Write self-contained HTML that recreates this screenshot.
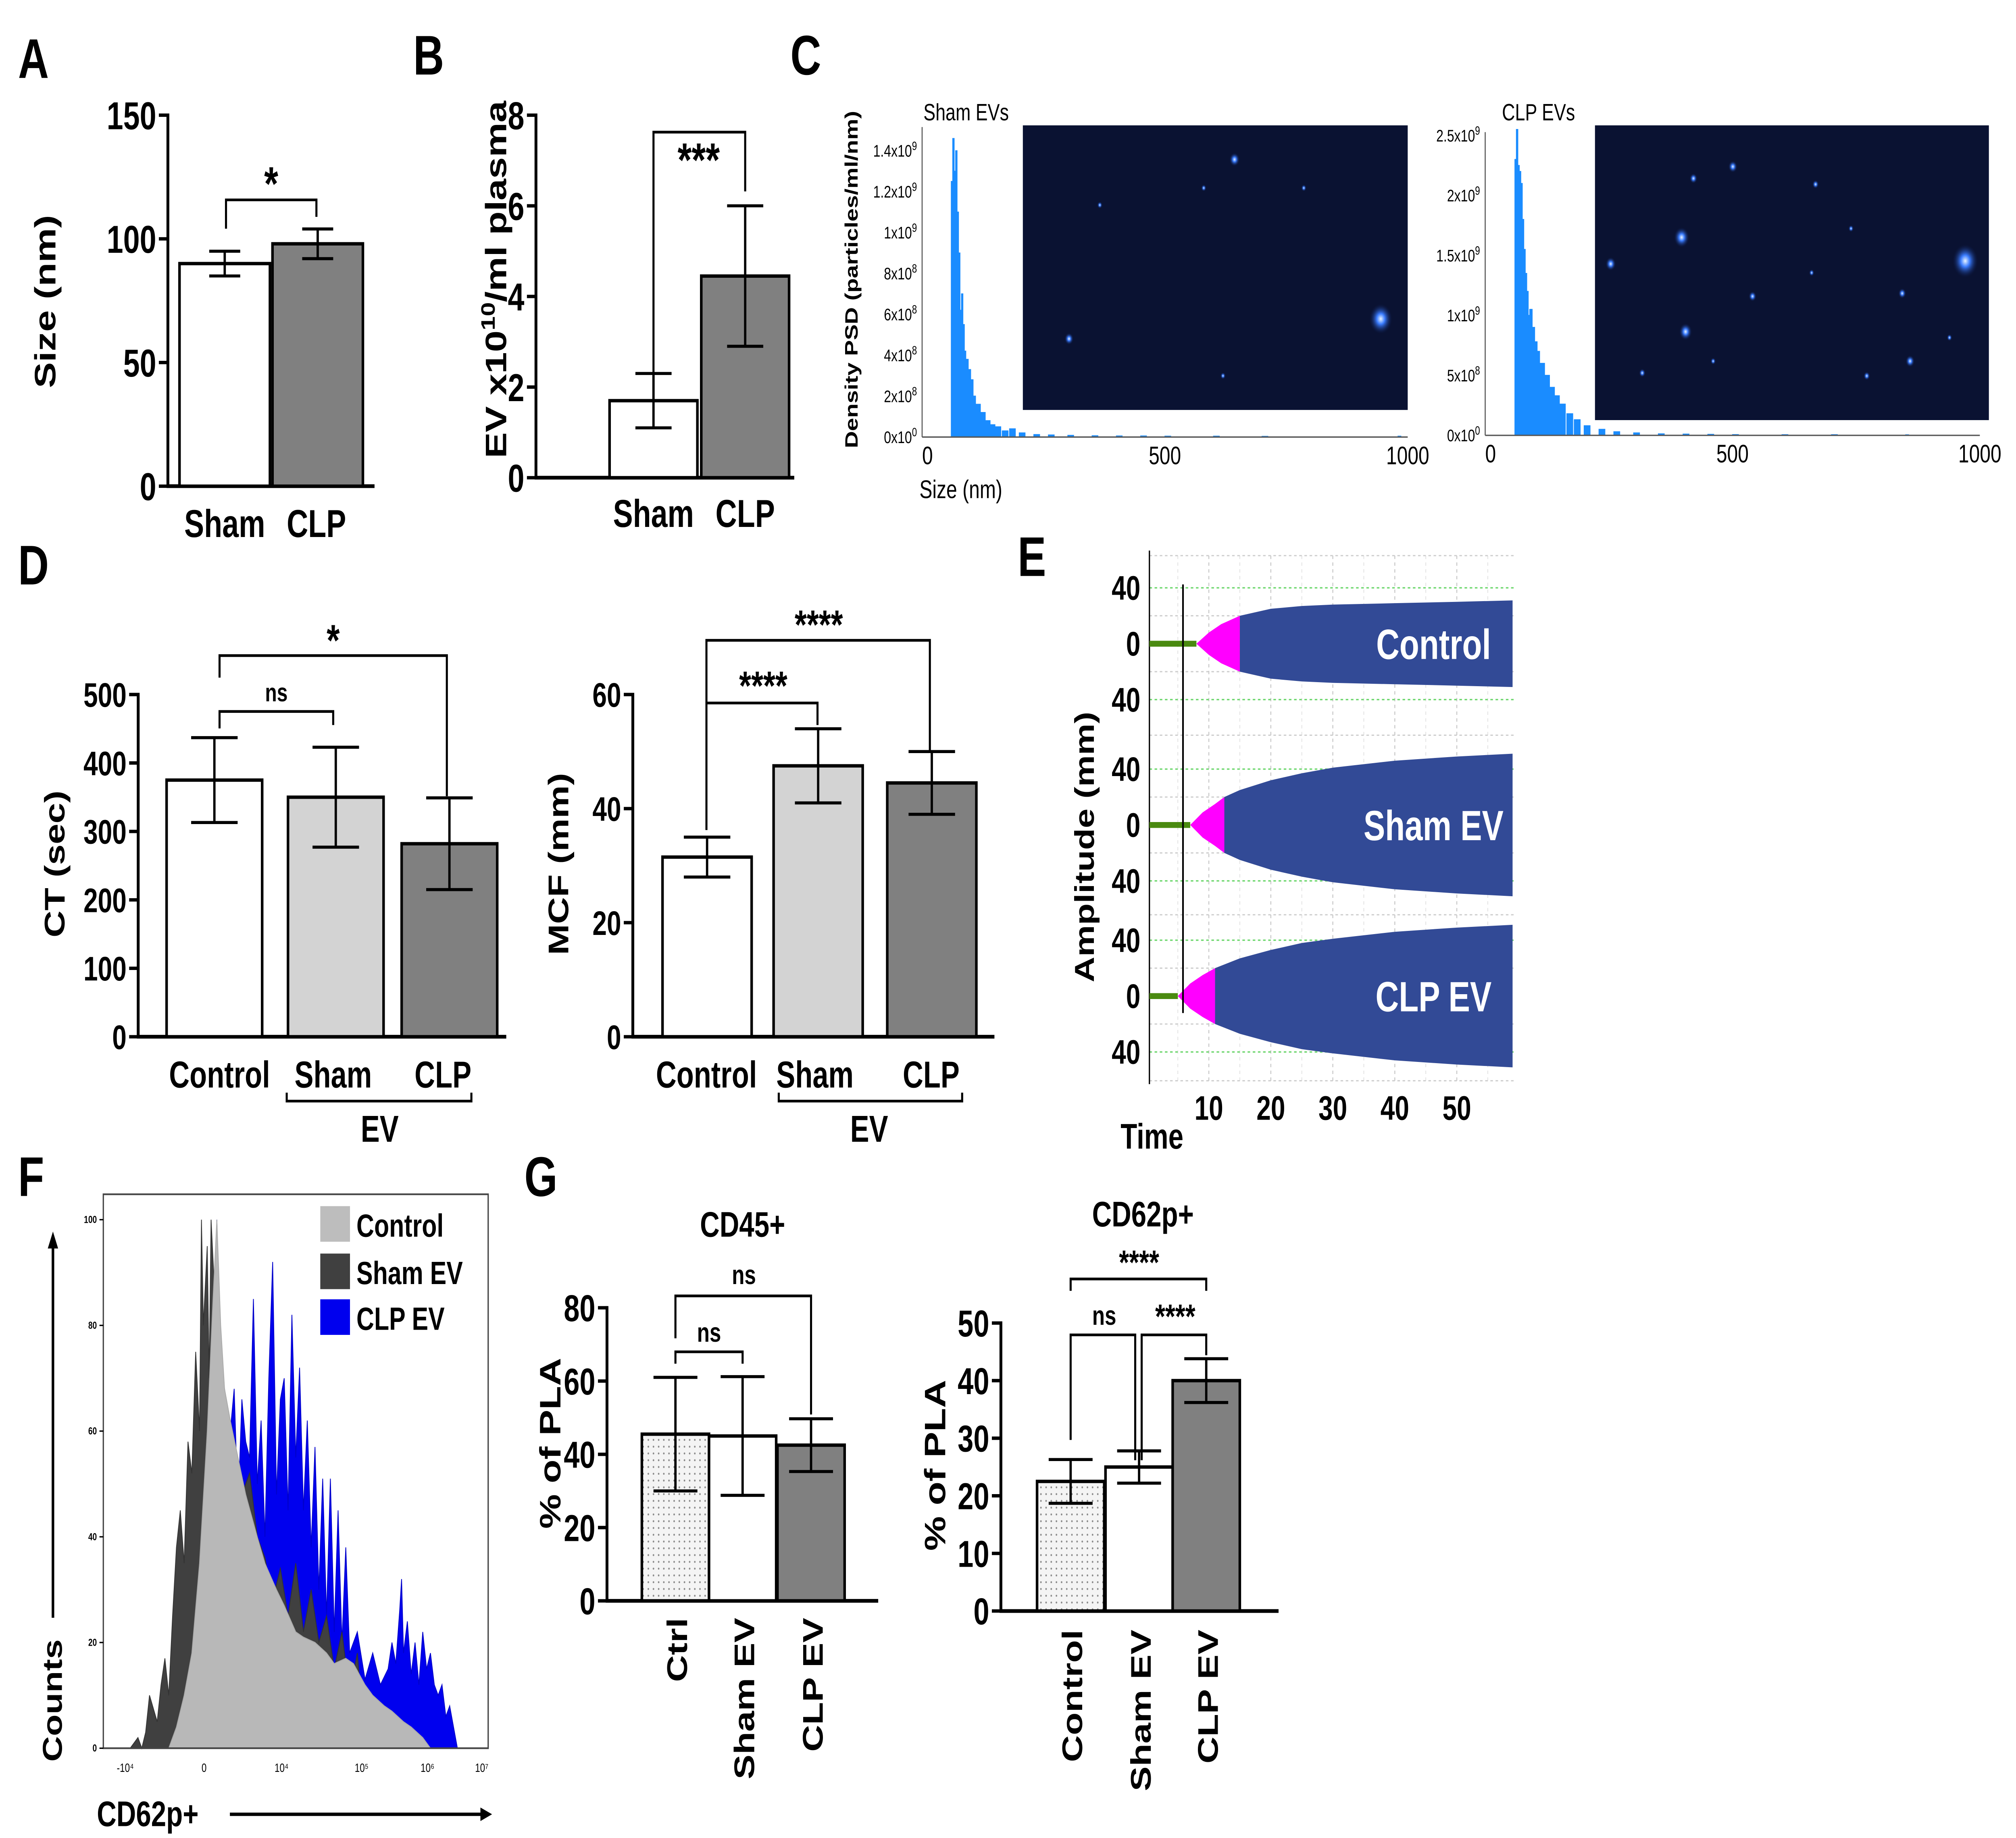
<!DOCTYPE html>
<html><head><meta charset="utf-8">
<style>
html,body{margin:0;padding:0;background:#fff;overflow:hidden;width:100vw;height:100vh;}
svg{display:block;width:100vw;height:100vh;}
text{font-family:"Liberation Sans",sans-serif;}
.b{font-weight:bold;}
.n{font-family:"Liberation Sans Narrow","Liberation Sans",sans-serif;font-weight:bold;}
</style></head>
<body>
<svg id="fig" xmlns="http://www.w3.org/2000/svg" viewBox="0 0 1561 1085" preserveAspectRatio="none">
<defs>
<pattern id="dots" width="4" height="4" patternUnits="userSpaceOnUse"><rect width="4" height="4" fill="#f4f4f4"/><circle cx="2" cy="2" r="0.6" fill="#888"/></pattern>
<radialGradient id="glow"><stop offset="0" stop-color="#e8f4ff"/><stop offset="0.35" stop-color="#3a7cff"/><stop offset="1" stop-color="#0a1540" stop-opacity="0"/></radialGradient>
</defs>
<g id="root"></g>
</svg>
<script>
// ---------- DATA ----------
const aCats=['Sham','CLP'];
const aVals=[90,98];
const aErrs=[5,6];
const aTicks=[0,50,100,150];

const bCats=['Sham','CLP'];
const bVals=[1.7,4.45];
const bErrs=[0.6,1.55];
const bTicks=[0,2,4,6,8];

const ctCats=['Control','Sham','CLP'];
const ctVals=[375,350,282];
const ctErrs=[62,73,67];
const ctTicks=[0,100,200,300,400,500];

const mcfCats=['Control','Sham','CLP'];
const mcfVals=[31.5,47.5,44.5];
const mcfErrs=[3.5,6.5,5.5];
const mcfTicks=[0,20,40,60];

const cd45Cats=['Ctrl','Sham EV','CLP EV'];
const cd45Vals=[45.5,45,42.5];
const cd45Errs=[15.5,16.2,7.2];
const cd45Ticks=[0,20,40,60,80];

const cd62Cats=['Control','Sham EV','CLP EV'];
const cd62Vals=[22.5,25,40];
const cd62Errs=[3.8,2.8,3.8];
const cd62Ticks=[0,10,20,30,40,50];

// NTA histograms (size nm, density x1e9)
const shamSizes=[60,63,66,69,72,75,78,81,84,87,90,95,100,105,110,120,130,140,150,165,180,200,230,260,300,350,400,450,500,600,700,980];
const shamDens=[1.25,1.46,1.3,1.4,1.1,0.9,0.62,0.7,0.55,0.42,0.38,0.33,0.28,0.2,0.16,0.12,0.08,0.06,0.05,0.03,0.04,0.02,0.012,0.01,0.008,0.006,0.005,0.005,0.004,0.004,0.003,0.004];
const shamTicks=['0x10','2x10','4x10','6x10','8x10','1x10','1.2x10','1.4x10'];
const shamTickVals=[0,0.2,0.4,0.6,0.8,1.0,1.2,1.4];
const shamTickExp=['0','8','8','8','8','9','9','9'];
const clpSizes=[60,63,66,69,72,75,78,81,84,87,90,95,100,105,110,120,130,140,150,165,180,200,230,260,300,350,400,450,500,600,700,850];
const clpDens=[2.3,2.55,2.25,2.2,2.1,1.8,1.55,1.35,1.2,1.0,1.05,0.9,0.78,0.7,0.6,0.5,0.4,0.33,0.26,0.18,0.13,0.08,0.05,0.03,0.02,0.012,0.01,0.008,0.006,0.005,0.005,0.004];
const clpTicks=['0x10','5x10','1x10','1.5x10','2x10','2.5x10'];
const clpTickVals=[0,0.5,1.0,1.5,2.0,2.5];
const clpTickExp=['0','8','9','9','9','9'];

// TEG traces (time min, amplitude mm)
const ctrlT=[8,10,12,15,20,25,30,40,50,59];
const ctrlA=[0,8,14,20,25,27,28,29,30,31];
const ctrlMagEnd=15;
const shamT=[7,9,11,12.5,15,20,25,30,40,50,59];
const shamA=[0,9,15,20,25,32,37,41,46,49,51];
const shamMagEnd=12.5;
const clpT=[5,7,9,11,15,20,25,30,40,50,59];
const clpA=[0,9,15,20,27,33,38,41,46,49,51];
const clpMagEnd=11;
const tegTimeTicks=[10,20,30,40,50];

// Flow histograms (channel 0-100 across axis, counts 0-100)
const fCtrlCh=[17,19,21,23,25,27,28.5,29.5,30.5,31.5,33,35,37,40,42,45,47,50,52,55,58,60,63,65,68,70,73,75,78,80,83,85];
const fCtrlCnt=[0,4,10,18,35,60,85,100,80,68,62,55,48,40,35,30,27,22,21,20,18,16,17,16,12,10,8,7,5,4,2,0];
const fShamCh=[7,9,10,11,12,14,15,16,17,18,19,20,21,22,23,24,25,25.5,26,27,27.5,28,29,30,31,33,34,36,38,40,42,44,46,48,50,52,54,56,58,60,62,64,66,68];
const fShamCnt=[0,2,0,3,10,5,12,17,10,25,38,45,35,58,52,75,60,100,80,95,70,100,85,70,68,62,55,48,52,40,36,28,34,25,35,22,30,20,25,15,22,10,18,0];
const fClpCh=[19,21,23,25,27,28,29,29.5,30.5,31.5,33,34,35,36,37,38,39,40,41,42,43,44,45,46,47,48,49,50,51,52,53,54,55,56,57,58,59,60,61,62,63,64,66,68,70,72,74,75,76,77,77.5,78,79,80,81,82,83,84,85,86,87,88,89,90,91,92];
const fClpCnt=[0,0,5,20,45,60,80,100,70,68,60,68,45,66,58,55,85,50,62,40,70,92,48,66,70,45,82,55,72,45,62,38,57,30,51,25,51,22,45,20,38,18,22,13,18,12,15,20,16,26,32,18,24,14,20,12,22,15,18,12,10,12,6,8,4,0];

// ---------- helpers ----------
const NS='http://www.w3.org/2000/svg';
const root=document.getElementById('root');
function mk(tag,attrs,parent){const e=document.createElementNS(NS,tag);for(const k in attrs)e.setAttribute(k,attrs[k]);(parent||root).appendChild(e);return e;}
function txt(s,attrs,parent){const e=mk('text',attrs,parent);e.textContent=s;return e;}
function grp(name){const g=mk('g',{});


return g;}

// ---------- bar chart ----------
function barChart(name,cfg,cats,vals,errs,ticks){
  const g=grp(name);
  const y=v=>cfg.y0-v/cfg.vmax*(cfg.y0-cfg.yTop);
  const ya=mk('line',{x1:cfg.ax,y1:cfg.yTop-1,x2:cfg.ax,y2:cfg.y0+1,stroke:'#000','stroke-width':2.2},g);
  
  
  const xa=mk('line',{x1:cfg.ax-1,y1:cfg.y0,x2:cfg.axEnd,y2:cfg.y0,stroke:'#000','stroke-width':2.2},g);
  
  
  ticks.forEach(t=>{
    mk('line',{x1:cfg.ax-7,y1:y(t),x2:cfg.ax,y2:y(t),stroke:'#000','stroke-width':2},g);
    const tl=txt(String(t),{x:cfg.ax-9,y:y(t)+cfg.fs*0.36,'text-anchor':'end','font-size':cfg.fs,class:cfg.cls||'b'},g);
    
    
  });
  vals.forEach((v,i)=>{
    const bx=cfg.bx[i],cx=bx+cfg.bw/2;
    const r=mk('rect',{x:bx,y:y(v),width:cfg.bw,height:cfg.y0-y(v),fill:cfg.fills[i],stroke:'#000','stroke-width':2},g);
    
    
    const e=errs[i],c=cfg.cap;
    const eb=mk('path',{d:`M${cx},${y(v-e)}V${y(v+e)}M${cx-c},${y(v+e)}H${cx+c}M${cx-c},${y(v-e)}H${cx+c}`,stroke:'#000','stroke-width':1.8,fill:'none'},g);
    
    
  });
  return g;
}
function bracket(pts,label,lx,ly,fs,parent){
  const p=mk('polyline',{points:pts,fill:'none',stroke:'#000','stroke-width':1.6},parent);
  
  
  const t=txt(label,{x:lx,y:ly,'text-anchor':'middle','font-size':fs,class:'b'},parent);
  
  
}
function label(s,x,y,fs,parent,name,extra){
  const t=txt(s,Object.assign({x:x,y:y,'font-size':fs,class:'b','text-anchor':'middle'},extra||{}),parent);
  
  
  return t;
}
function rlabel(s,x,y,fs,parent,name,anchor){
  const t=txt(s,{x:0,y:0,'font-size':fs,class:'b','text-anchor':anchor||'middle',transform:`translate(${x},${y}) rotate(-90)`},parent);
  
  
  return t;
}

// panel letters
[['A',14,46],['B',320,44],['C',612,44],['D',14,345],['E',788,340],['F',14,706],['G',406,706]].forEach(p=>{
  const t=txt(p[0],{x:p[1],y:p[2],'font-size':33,class:'b'});
  
  
});

// ---------- A ----------
const gA=barChart('panel-a-size-chart',{ax:130,axEnd:290,y0:287,yTop:68,vmax:150,bx:[139,211],bw:70,fills:['#fff','#808080'],cap:12,fs:23},aCats,aVals,aErrs,aTicks);
bracket('175,135 175,118 245,118 245,128','*',210,118,28,gA);
label('Sham',174,317,23,gA,'x-label-sham');
label('CLP',245,317,23,gA,'x-label-clp');
rlabel('Size (nm)',43,178,23,gA,'y-axis-title');

// ---------- B ----------
const gB=barChart('panel-b-ev-chart',{ax:415,axEnd:615,y0:282,yTop:68,vmax:8,bx:[472,543],bw:68,fills:['#fff','#808080'],cap:14,fs:23},bCats,bVals,bErrs,bTicks);
bracket('506,225 506,78 577,78 577,113','***',541,104,28,gB);
label('Sham',506,311,23,gB,'x-label-sham');
label('CLP',577,311,23,gB,'x-label-clp');
{const t=rlabel('',392,165,23,gB,'y-axis-title');
 t.textContent='';
 const a=document.createElementNS(NS,'tspan');a.textContent='EV x10';t.appendChild(a);
 const s=document.createElementNS(NS,'tspan');s.setAttribute('dy','-9');s.setAttribute('font-size','15');s.textContent='10';t.appendChild(s);
 const c=document.createElementNS(NS,'tspan');c.setAttribute('dy','9');c.textContent='/ml plasma';t.appendChild(c);}

// ---------- C ----------
function nta(name,cfg,sizes,dens,tickLbl,tickVals,tickExp,title){
  const g=grp(name);
  const x=s=>cfg.ax+s*cfg.xs;
  const y=d=>cfg.y0-d*cfg.ys;
  let d=`M${x(sizes[0])},${cfg.y0}`;
  sizes.forEach((s,i)=>{const w=(i<sizes.length-1?sizes[i+1]-s:6);d+=`V${y(dens[i])}H${x(s+Math.min(w,12))}V${i<sizes.length-1&&w>12?cfg.y0:y(dens[i])}`;if(w>12&&i<sizes.length-1)d+=`H${x(sizes[i+1])}`;});
  d+=`V${cfg.y0}Z`;
  const h=mk('path',{d:d,fill:'#1a8cff',stroke:'#1a8cff','stroke-width':0.6},g);
  
  
  mk('line',{x1:cfg.ax,y1:cfg.yTop,x2:cfg.ax,y2:cfg.y0,stroke:'#555','stroke-width':0.8},g);
  mk('line',{x1:cfg.ax,y1:cfg.y0,x2:x(1000),y2:cfg.y0,stroke:'#555','stroke-width':0.8},g);
  tickVals.forEach((v,i)=>{
    const t=txt('',{x:cfg.ax-4,y:y(v)+3.5,'text-anchor':'end','font-size':10},g);
    
    
    const a=document.createElementNS(NS,'tspan');a.textContent=tickLbl[i];t.appendChild(a);
    const s=document.createElementNS(NS,'tspan');s.setAttribute('dy','-4');s.setAttribute('font-size','7');s.textContent=tickExp[i];t.appendChild(s);
  });
  [0,500,1000].forEach(v=>{const t=txt(String(v),{x:x(v),y:cfg.y0+16,'text-anchor':v===0?'start':'middle','font-size':15},g);
    
    });
  const tt=txt(title,{x:cfg.tx,y:71,'font-size':14},g);
  
  
  const im=mk('g',{},g);
  
  
  mk('rect',{x:cfg.ix,y:cfg.iy,width:cfg.iw,height:cfg.ih,fill:'#0a1232'},im);
  cfg.spots.forEach(p=>mk('circle',{cx:cfg.ix+p[0]*cfg.iw,cy:cfg.iy+p[1]*cfg.ih,r:p[2],fill:'url(#glow)'},im));
  return g;
}
const gC1=nta('panel-c-sham-nta',{ax:714,y0:258,yTop:75,xs:0.376,ys:120.7,tx:715,ix:792,iy:74,iw:298,ih:168,
  spots:[[0.93,0.68,9],[0.55,0.12,4],[0.12,0.75,3.5],[0.47,0.22,2],[0.73,0.22,2],[0.2,0.28,2],[0.52,0.88,2]]},shamSizes,shamDens,shamTicks,shamTickVals,shamTickExp,'Sham EVs');
const gC2=nta('panel-c-clp-nta',{ax:1150,y0:257,yTop:78,xs:0.383,ys:70.8,tx:1163,ix:1235,iy:74,iw:305,ih:174,
  spots:[[0.22,0.38,6],[0.94,0.46,10],[0.23,0.7,5],[0.04,0.47,4],[0.35,0.14,3.5],[0.25,0.18,3],[0.4,0.58,3],[0.78,0.57,3],[0.8,0.8,3.5],[0.56,0.2,2.5],[0.69,0.85,2.5],[0.12,0.84,2.5],[0.3,0.8,2],[0.9,0.72,2],[0.55,0.5,2],[0.65,0.35,2]]},clpSizes,clpDens,clpTicks,clpTickVals,clpTickExp,'CLP EVs');
rlabel('Density PSD (particles/ml/nm)',664,165,14,gC1,'y-axis-title');
label('Size (nm)',744,294,15,gC1,'x-axis-title',{class:''});

// ---------- D ----------
const gD1=barChart('panel-d-ct-chart',{ax:107,axEnd:392,y0:612,yTop:410,vmax:500,bx:[129,223,311],bw:74,fills:['#fff','#d3d3d3','#808080'],cap:18,fs:20},ctCats,ctVals,ctErrs,ctTicks);
bracket('170,430 170,420 258,420 258,428','ns',214,414,15,gD1);
bracket('170,400 170,387 346,387 346,470','*',258,387,26,gD1);
label('Control',170,642,22,gD1,'x-label-control');
label('Sham',258,642,22,gD1,'x-label-sham');
label('CLP',343,642,22,gD1,'x-label-clp');
mk('polyline',{points:'222,645 222,650 365,650 365,645',fill:'none',stroke:'#000','stroke-width':1.6},gD1);
label('EV',294,674,22,gD1,'group-label-ev');
rlabel('CT (sec)',50,510,22,gD1,'y-axis-title');

const gD2=barChart('panel-d-mcf-chart',{ax:490,axEnd:770,y0:612,yTop:410,vmax:60,bx:[513,599,687],bw:69,fills:['#fff','#d3d3d3','#808080'],cap:18,fs:20},mcfCats,mcfVals,mcfErrs,mcfTicks);
bracket('547,490 547,415 633,415 633,428','****',591,413,24,gD2);
bracket('547,415 547,378 720,378 720,443','****',634,377,24,gD2);
label('Control',547,642,22,gD2,'x-label-control');
label('Sham',631,642,22,gD2,'x-label-sham');
label('CLP',721,642,22,gD2,'x-label-clp');
mk('polyline',{points:'603,645 603,650 745,650 745,645',fill:'none',stroke:'#000','stroke-width':1.6},gD2);
label('EV',673,674,22,gD2,'group-label-ev');
rlabel('MCF (mm)',440,510,22,gD2,'y-axis-title');

// ---------- E ----------
{
  const g=grp('panel-e-teg-chart');
  const tx=t=>888+t*4.8;
  const amp=33/40;
  [10,20,30,40,50].forEach(t=>mk('line',{x1:tx(t),y1:328,x2:tx(t),y2:638,stroke:'#ccc','stroke-width':0.8,'stroke-dasharray':'2,2'},g));
  [5,15,25,35,45,55].forEach(t=>mk('line',{x1:tx(t),y1:328,x2:tx(t),y2:638,stroke:'#e2e2e2','stroke-width':0.6,'stroke-dasharray':'2,2'},g));
  const centers=[380,487,588];
  centers.forEach(c=>{
    [-40,40].forEach(a=>mk('line',{x1:890,y1:c+a*amp,x2:1172,y2:c+a*amp,stroke:'#6cd66c','stroke-width':0.8,'stroke-dasharray':'2,2'},g));
    [-20,20].forEach(a=>mk('line',{x1:890,y1:c+a*amp,x2:1172,y2:c+a*amp,stroke:'#ccc','stroke-width':0.7,'stroke-dasharray':'2,2'},g));
  });
  [328,434,540,638].forEach(yy=>mk('line',{x1:890,y1:yy,x2:1172,y2:yy,stroke:'#ccc','stroke-width':0.7,'stroke-dasharray':'2,2'},g));
  mk('line',{x1:890,y1:325,x2:890,y2:640,stroke:'#000','stroke-width':1},g);
  const traces=[[ctrlT,ctrlA,ctrlMagEnd,'Control'],[shamT,shamA,shamMagEnd,'Sham EV'],[clpT,clpA,clpMagEnd,'CLP EV']];
  traces.forEach((tr,k)=>{
    const [T,A,mEnd,name]=tr,c=centers[k];
    const gl=mk('line',{x1:890,y1:c,x2:tx(T[0]),y2:c,stroke:'#4a8a10','stroke-width':3.5},g);
    
    
    const mi=T.map((t,i)=>i).filter(i=>T[i]<=mEnd), bi=T.map((t,i)=>i).filter(i=>T[i]>=mEnd);
    const poly=idx=>idx.map(i=>`${tx(T[i])},${c-A[i]*amp}`).concat(idx.slice().reverse().map(i=>`${tx(T[i])},${c+A[i]*amp}`)).join(' ');
    const mg=mk('polygon',{points:poly(mi),fill:'#ff00ff'},g);
    
    
    const bl=mk('polygon',{points:poly(bi),fill:'#324a96'},g);
    
    
    label(name,1172-62,c+9,25,g,'trace-label',{fill:'#fff'});
    [['40',-40],['0',0],['40',40]].forEach(p=>label(p[0],883,c+p[1]*amp+7,20,g,'y-tick-label',{'text-anchor':'end'}));
  });
  mk('line',{x1:916,y1:345,x2:916,y2:598,stroke:'#000','stroke-width':1.3},g);
  tegTimeTicks.forEach(t=>label(String(t),tx(t),661,20,g,'x-tick-label'));
  label('Time',892,678,21,g,'x-axis-title');
  rlabel('Amplitude (mm)',847,500,21,g,'y-axis-title');
}

// ---------- F ----------
{
  const g=grp('panel-f-flow-histogram');
  const fx=ch=>80+ch*2.98, fy=c=>1032-c*3.12;
  const area=(ch,cn)=>`M${fx(ch[0])},1032 `+ch.map((c,i)=>`L${fx(c)},${fy(cn[i])}`).join(' ')+` L${fx(ch[ch.length-1])},1032Z`;
  const s1=mk('path',{d:area(fClpCh,fClpCnt),fill:'#0000ee',stroke:'#0000cc','stroke-width':0.6},g);
  
  
  const s2=mk('path',{d:area(fShamCh,fShamCnt),fill:'#404040',stroke:'#333','stroke-width':0.6},g);
  
  
  const s3=mk('path',{d:area(fCtrlCh,fCtrlCnt),fill:'#b8b8b8',stroke:'#aaa','stroke-width':0.6},g);
  
  
  mk('rect',{x:80,y:705,width:298,height:327,fill:'none',stroke:'#444','stroke-width':1},g);
  [0,20,40,60,80,100].forEach(v=>{mk('line',{x1:77,y1:fy(v),x2:80,y2:fy(v),stroke:'#000','stroke-width':0.8},g);
    label(String(v),75,fy(v)+2,6,g,'y-tick-label',{'text-anchor':'end'});});
  [['-10⁴',97],['0',158],['10⁴',218],['10⁵',280],['10⁶',331],['10⁷',373]].forEach(p=>label(p[0],p[1],1046,7,g,'x-tick-label',{class:''}));
  [['Control','#bdbdbd',712],['Sham EV','#404040',740],['CLP EV','#0000ee',767]].forEach(l=>{
    const r=mk('rect',{x:248,y:l[2],width:23,height:21,fill:l[1]},g);
    
    
    label(l[0],276,l[2]+18,19,g,'legend-entry',{'text-anchor':'start'});
  });
  mk('line',{x1:41,y1:955,x2:41,y2:735,stroke:'#000','stroke-width':2},g);
  mk('polygon',{points:'37,737 45,737 41,727',fill:'#000'},g);
  rlabel('Counts',48,1040,21,g,'y-axis-title','start');
  label('CD62p+',75,1078,21,g,'x-axis-title',{'text-anchor':'start'});
  mk('line',{x1:178,y1:1071,x2:372,y2:1071,stroke:'#000','stroke-width':2},g);
  mk('polygon',{points:'372,1067 372,1075 381,1071',fill:'#000'},g);
}

// ---------- G ----------
const gG1=barChart('panel-g-cd45-chart',{ax:470,axEnd:680,y0:945,yTop:772,vmax:80,bx:[497,549,602],bw:52,fills:['url(#dots)','#fff','#808080'],cap:17,fs:22,cls:'n'},cd45Cats,cd45Vals,cd45Errs,cd45Ticks);
bracket('523,805 523,798 575,798 575,805','ns',549,792,16,gG1);
bracket('523,790 523,765 628,765 628,835','ns',576,758,16,gG1);
label('CD45+',575,730,21,gG1,'chart-title',{class:'n'});
cd45Cats.forEach((c,i)=>rlabel(c,[523,575,628][i]+9,955,22,gG1,'x-label','end'));
rlabel('% of PLA',434,852,23,gG1,'y-axis-title');

const gG2=barChart('panel-g-cd62p-chart',{ax:775,axEnd:990,y0:951,yTop:781,vmax:50,bx:[803,856,908],bw:52,fills:['url(#dots)','#fff','#808080'],cap:17,fs:22,cls:'n'},cd62Cats,cd62Vals,cd62Errs,cd62Ticks);
bracket('829,762 829,755 934,755 934,762','****',882,752,20,gG2);
bracket('829,850 829,788 879,788 879,862','ns',855,782,16,gG2);
bracket('884,862 884,788 934,788 934,800','****',910,784,20,gG2);
label('CD62p+',885,724,21,gG2,'chart-title',{class:'n'});
cd62Cats.forEach((c,i)=>rlabel(c,[829,882,934][i]+9,962,22,gG2,'x-label','end'));
rlabel('% of PLA',732,865,23,gG2,'y-axis-title');
</script>
</body></html>
